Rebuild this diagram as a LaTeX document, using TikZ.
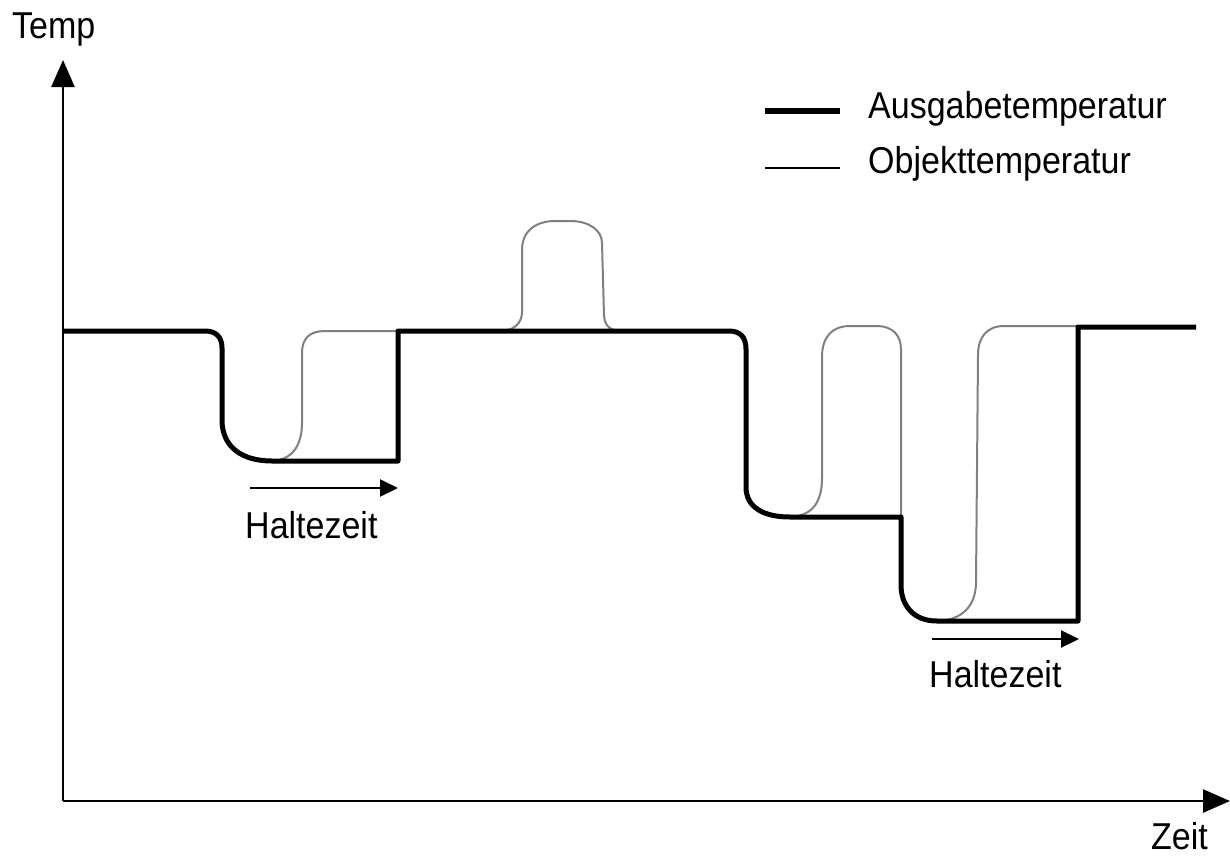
\documentclass[tikz,border=0pt]{standalone}
\usepackage{fontspec}
\setmainfont{Liberation Sans}
\usetikzlibrary{arrows.meta}
\newcommand{\lbl}[1]{\scalebox{1}[1.1]{#1}}
\tikzset{
  axis/.style={line width=2.5pt, -{Triangle[length=27pt,width=23pt]}},
  outline/.style={line width=5pt, line join=round},
  objline/.style={line width=2pt, black!50, line join=round},
  holdarrow/.style={line width=2pt, -{Triangle[length=18pt,width=17pt]}},
  txt/.style={inner sep=0pt, anchor=base west, font=\fontsize{34}{40}\selectfont},
  legthick/.style={line width=6pt},
  legthin/.style={line width=2pt}
}
\begin{document}
\begin{tikzpicture}[x=1pt,y=-1pt]
\useasboundingbox[fill=white] (0,0) rectangle (1230,857);

% axes
\coordinate (O) at (63,801);
\coordinate (ytip) at (63,60);
\coordinate (xtip) at (1230,801);
\draw[axis] (O) -- (ytip);
\draw[axis] (O) -- (xtip);
\node[txt] (temp) at (12,38) {\lbl{Temp}};
\node[txt] (zeit) at (1151,849) {\lbl{Zeit}};

% object temperature (gray)
\draw[objline] (270,461) .. controls (290,461) and (302,448) .. (302,423) -- (302,353)
  .. controls (302,338) and (310,331) .. (325,331) -- (398,331);
\draw[objline] (500,331) .. controls (514,331) and (522,323) .. (522,312) -- (522,250)
  .. controls (522,230) and (537,221) .. (555,221) -- (570,221)
  .. controls (590,221) and (602,231) .. (602,243) -- (604,316)
  .. controls (605,326) and (610,331) .. (622,331);
\draw[objline] (787,517) .. controls (810,517) and (822,505) .. (822,478) -- (822,357)
  .. controls (822,337) and (832,326) .. (850,326) -- (877,326)
  .. controls (892,326) and (901,335) .. (901,349) -- (901,517);
\draw[objline] (935,621) .. controls (962,621) and (976,606) .. (976,582) -- (978,355)
  .. controls (978,337) and (987,326) .. (1004,326) -- (1078,326);

% output temperature (black)
\draw[outline] (63,331) -- (205,331) .. controls (216,331) and (222,337) .. (222,348)
  -- (222,420) .. controls (222,447) and (242,461) .. (272,461) -- (398,461) -- (398,331)
  -- (729,331) .. controls (740,331) and (746,337) .. (746,349)
  -- (746,487) .. controls (746,507) and (763,517) .. (790,517) -- (901,517)
  -- (901,585) .. controls (901,605) and (913,621) .. (937,621) -- (1078,621)
  -- (1078,327) -- (1196,327);

% holding time arrows
\coordinate (h1s) at (250,488);
\coordinate (h1e) at (398,488);
\draw[holdarrow] (h1s) -- (h1e);
\node[txt] (hz1) at (245,538) {\lbl{Haltezeit}};
\coordinate (h2s) at (932,639);
\coordinate (h2e) at (1079,639);
\draw[holdarrow] (h2s) -- (h2e);
\node[txt] (hz2) at (929,687) {\lbl{Haltezeit}};

% legend
\coordinate (l1a) at (765,111);
\coordinate (l1b) at (840,111);
\draw[legthick] (l1a) -- (l1b);
\node[txt] (leg1) at (868,118.5) {\lbl{Ausgabetemperatur}};
\coordinate (l2a) at (765,168);
\coordinate (l2b) at (840,168);
\draw[legthin] (l2a) -- (l2b);
\node[txt] (leg2) at (868,173.5) {\lbl{Objekttemperatur}};
\end{tikzpicture}
\end{document}
